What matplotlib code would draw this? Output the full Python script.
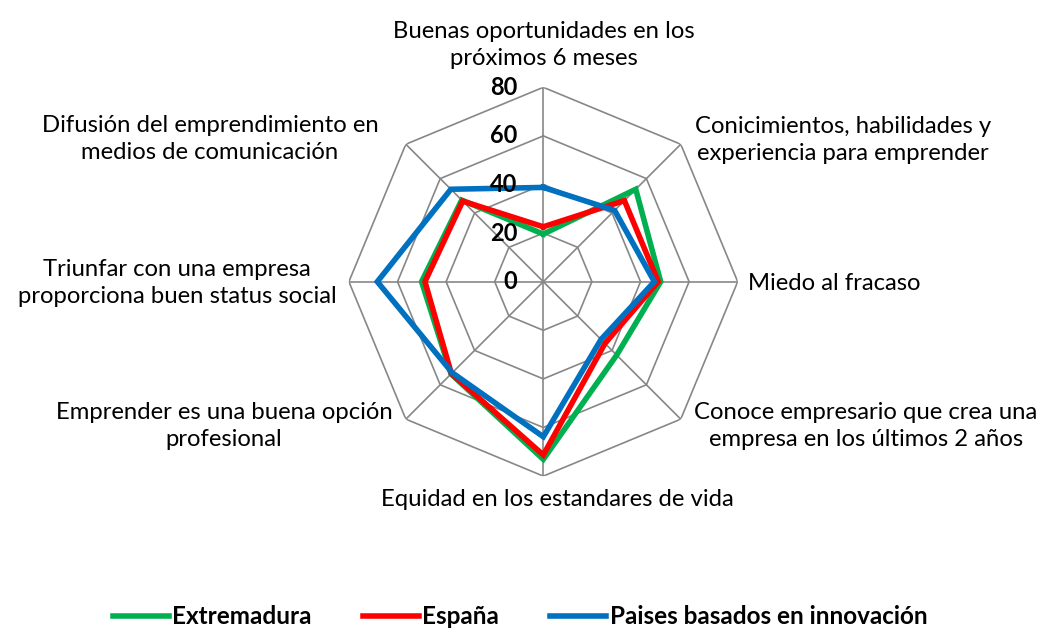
import numpy as np
import matplotlib
matplotlib.use("Agg")
import matplotlib.pyplot as plt
from matplotlib.transforms import offset_copy

plt.rcParams['font.family'] = ['Lato', 'DejaVu Sans']

categories = [
    "Buenas oportunidades en los\npróximos 6 meses",
    "Conicimientos, habilidades y\nexperiencia para emprender",
    "Miedo al fracaso",
    "Conoce empresario que crea una\nempresa en los últimos 2 años",
    "Equidad en los estandares de vida",
    "Emprender es una buena opción\nprofesional",
    "Triunfar con una empresa\nproporciona buen status social",
    "Difusión del emprendimiento en\nmedios de comunicación",
]
extremadura = [19.6, 53.8, 48.3, 42.7, 73.1, 53.7, 50.1, 47.5]
espana = [22.6, 47.2, 47.3, 35.9, 71.3, 53.5, 48.7, 46.9]
innovacion = [38.8, 41.5, 45.7, 33.6, 63.8, 53.0, 68.3, 53.8]
series_names = ["Extremadura", "España", "Paises basados en innovación"]
series_colors = ["#00B050", "#FF0000", "#0070C0"]
radial_ticks = [0, 20, 40, 60, 80]

W, H = 1048, 630
fig = plt.figure(figsize=(W / 100, H / 100), dpi=100)
cx, cy, R = 543.3, 630 - 281.7, 194.4
ax = fig.add_axes([(cx - R) / W, (cy - R) / H, 2 * R / W, 2 * R / H], projection='polar')
ax.set_theta_zero_location('N')
ax.set_theta_direction(-1)
ax.set_ylim(0, 80)
ax.grid(False)
ax.spines['polar'].set_visible(False)
ax.set_xticks([])
ax.set_yticks([])
ax.patch.set_alpha(0)

n = len(categories)
angles = np.linspace(0, 2 * np.pi, n, endpoint=False)
closed = np.append(angles, angles[0])

grid_color = "#878787"
for lvl in radial_ticks[1:]:
    ax.plot(closed, [lvl] * (n + 1), color=grid_color, lw=1.2, zorder=1)
for a in angles:
    ax.plot([a, a], [0, 80], color=grid_color, lw=1.2, zorder=1)

for vals, name, col in zip([extremadura, espana, innovacion], series_names, series_colors):
    ax.plot(closed, list(vals) + [vals[0]], color=col, lw=4.0, label=name, zorder=3,
            solid_joinstyle='miter')

tr = offset_copy(ax.transData, fig=fig, x=-26, y=0, units='dots')
for t in radial_ticks:
    ax.text(0, t, str(t), transform=tr, ha='right', va='center', fontsize=17,
            fontweight='bold', color='black', zorder=4)

# category labels (pixel positions from the top-left)
label_pos = [
    (544, 45, 'center'),
    (843, 140, 'center'),
    (748, 283, 'left'),
    (866, 426, 'center'),
    (557, 500, 'center'),
    (224, 426, 'center'),
    (177, 283, 'center'),
    (210, 139, 'center'),
]
for lab, (x, y, ha) in zip(categories, label_pos):
    fig.text(x / W, 1 - y / H, lab, ha=ha, va='center', fontsize=17.2,
             linespacing=1.4, color='black')

handles = ax.get_lines()[-3:]
leg = fig.legend(handles, series_names, loc='center', bbox_to_anchor=(520 / W, 1 - 617 / H),
                 ncol=3, frameon=False, handlelength=2.3, handletextpad=0.15,
                 columnspacing=2.1, prop={'weight': 'bold', 'size': 17.5})

fig.savefig("out.png", dpi=100)
